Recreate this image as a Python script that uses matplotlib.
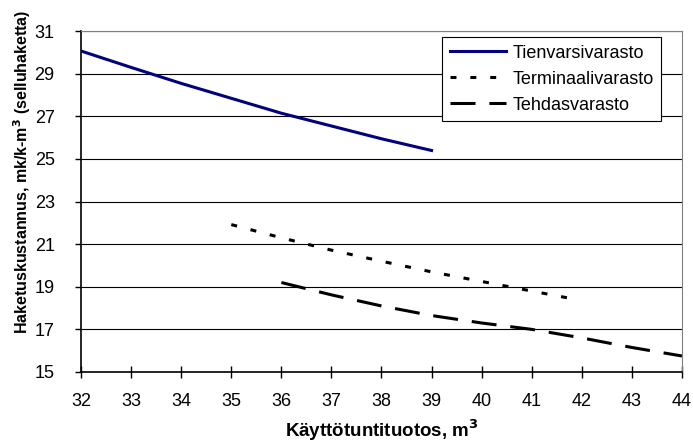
import matplotlib
matplotlib.use('Agg')
import matplotlib.pyplot as plt

plt.rcParams['font.family'] = ['Liberation Sans', 'DejaVu Sans']
plt.rcParams['lines.scale_dashes'] = False

# kustannukset varastointitavan mukaan
x_tienvarsi = [32, 33, 34, 35, 36, 37, 38, 39]
y_tienvarsi = [30.07, 29.3, 28.55, 27.85, 27.15, 26.55, 25.95, 25.4]

x_terminaali = [35, 36, 37, 38, 39, 40, 41, 41.85]
y_terminaali = [21.92, 21.3, 20.72, 20.2, 19.7, 19.25, 18.8, 18.42]

x_tehdas = [36, 37, 38, 39, 40, 41, 42, 43, 44]
y_tehdas = [19.2, 18.62, 18.1, 17.65, 17.3, 17.0, 16.6, 16.15, 15.75]

xticks = list(range(32, 45))
yticks = list(range(15, 32, 2))

fig = plt.figure(figsize=(6.93, 4.46), dpi=100)
ax = fig.add_axes([0.117, 0.166, 0.867, 0.764])

for y in yticks:
    ax.axhline(y, color='black', lw=0.8, zorder=1)

ax.plot(x_tienvarsi, y_tienvarsi, color='#000080', lw=2.2, label='Tienvarsivarasto', zorder=3)
ax.plot(x_terminaali, y_terminaali, color='black', lw=2.2, dashes=(4.3, 10), label='Terminaalivarasto', zorder=3)
ax.plot(x_tehdas, y_tehdas, color='black', lw=2.2, dashes=(18, 10), label='Tehdasvarasto', zorder=3)

ax.set_xlim(32, 44)
ax.set_ylim(15, 31)
ax.set_xticks(xticks)
ax.set_yticks(yticks)
ax.tick_params(axis='x', direction='inout', length=8.6, width=1, labelsize=13, pad=11)
ax.tick_params(axis='y', direction='out', length=4, width=1, labelsize=13, pad=15)

for s in ['top', 'right']:
    ax.spines[s].set_color('#808080')
for s in ['left', 'bottom']:
    ax.spines[s].set_color('black')
    ax.spines[s].set_linewidth(1.2)

ax.set_xlabel(r'Käyttötuntituotos, m$^\mathbf{3}$', fontsize=13.5, fontweight='bold', va='bottom')
ax.set_ylabel(r'Haketuskustannus, mk/k-m$^\mathbf{3}$ (selluhaketta)', fontsize=11.5, fontweight='bold')
ax.xaxis.set_label_coords(0.501, -0.209)
ax.yaxis.set_label_coords(-0.080, 0.588)

leg = ax.legend(loc='upper right', bbox_to_anchor=(0.965, 0.982), fontsize=13, frameon=True,
                fancybox=False, edgecolor='black', framealpha=1, handlelength=3.15,
                handletextpad=0.33, borderpad=0.4, labelspacing=0.5, borderaxespad=0)
leg.get_frame().set_linewidth(0.8)

fig.savefig('out.png', dpi=100)
